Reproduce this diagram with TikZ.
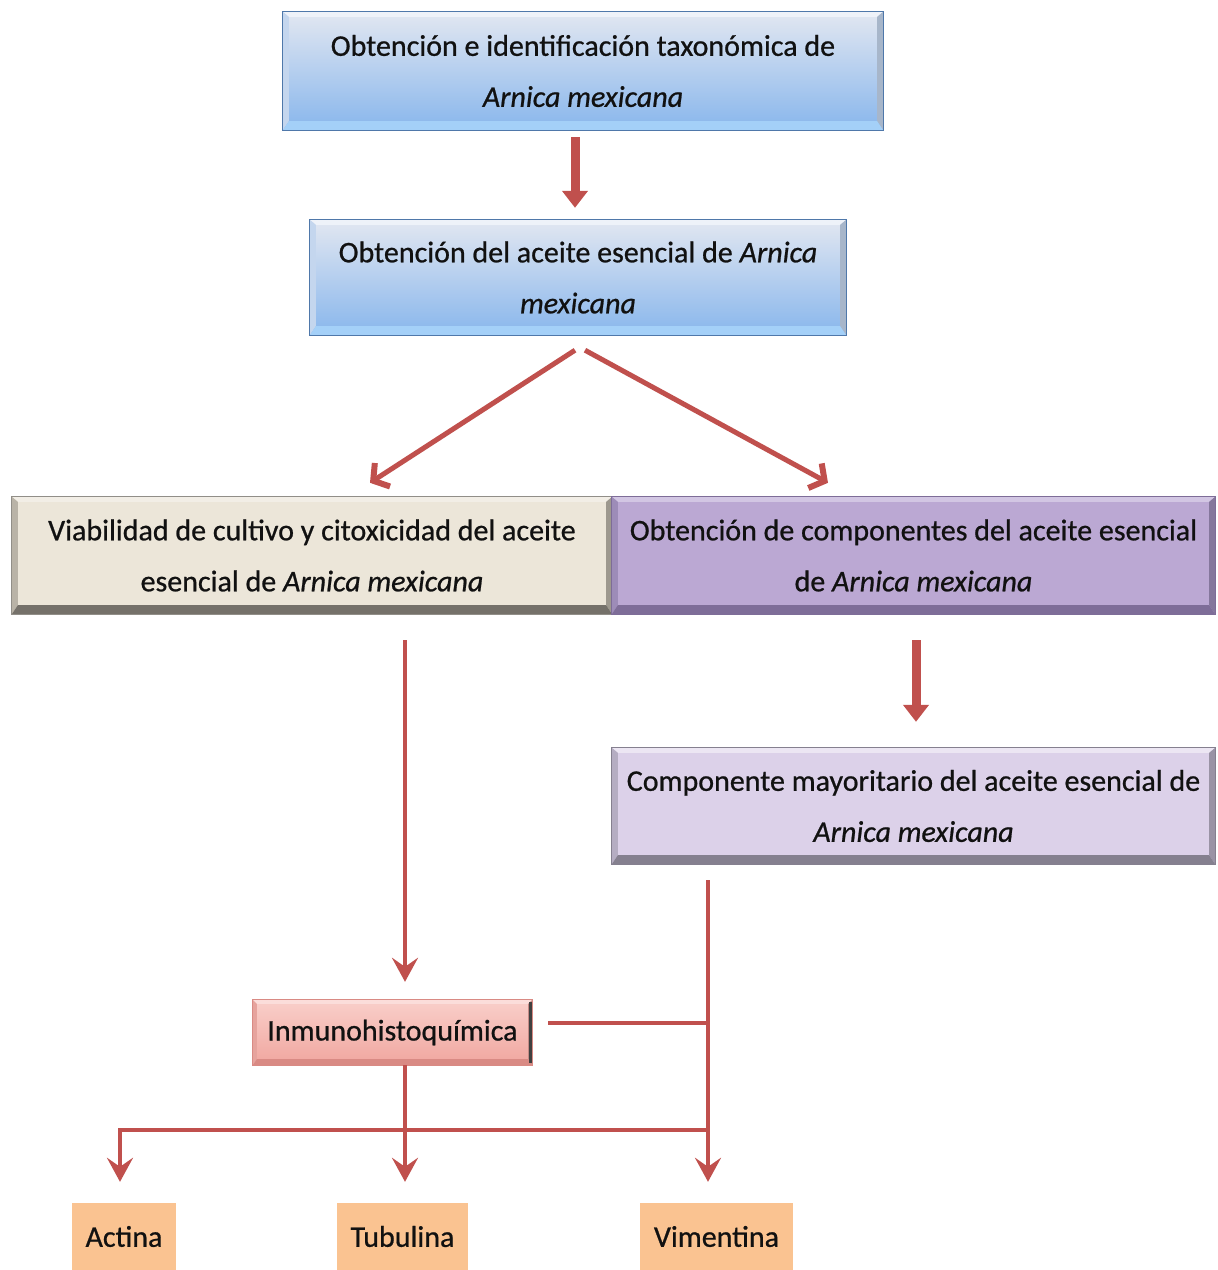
\documentclass[tikz,border=0pt]{standalone}
\usepackage{fontspec}
\setmainfont{Carlito}[FakeBold=0.7]
\usetikzlibrary{arrows.meta}
\definecolor{arr}{HTML}{C0504D}
\definecolor{txt}{HTML}{111111}
\definecolor{blueTop}{HTML}{E2E7F1}
\definecolor{blueBot}{HTML}{88B6EC}
\definecolor{blueDark}{HTML}{4F78AA}
\definecolor{blueLight}{HTML}{EEF2F9}
\definecolor{blueBev}{HTML}{A4D0F8}
\definecolor{blueSide}{HTML}{C4D6EE}
\definecolor{beige}{HTML}{ECE6D9}
\definecolor{beigeDark}{HTML}{75716A}
\definecolor{beigeLight}{HTML}{F2EEE6}
\definecolor{beigeSide}{HTML}{B9B3A7}
\definecolor{purp}{HTML}{BBA8D3}
\definecolor{purpDark}{HTML}{7E6D98}
\definecolor{purpLight}{HTML}{D2C6E3}
\definecolor{purpSide}{HTML}{9D8CB8}
\definecolor{lav}{HTML}{DCD1E9}
\definecolor{lavDark}{HTML}{85808F}
\definecolor{lavLight}{HTML}{ECE6F3}
\definecolor{lavSide}{HTML}{B5ADC2}
\definecolor{pinkTop}{HTML}{F9CFCA}
\definecolor{pinkBot}{HTML}{F0A69F}
\definecolor{pinkDark}{HTML}{D98A84}
\definecolor{pinkLight}{HTML}{FBDDDA}
\definecolor{pinkSide}{HTML}{E6A39D}
\definecolor{orng}{HTML}{FAC391}
\newcommand\bw{6pt}
\newcommand\bb{9pt}
\newcommand\bt{5pt}
% node, top colour, bottom colour, side colour, outline colour
\newcommand\bevelbox[5]{%
 \fill[#2] (#1.north west) -- (#1.north east) -- ([xshift=-\bw,yshift=-\bt]#1.north east) -- ([xshift=\bw,yshift=-\bt]#1.north west) -- cycle;
 \fill[#4] (#1.north west) -- ([xshift=\bw,yshift=-\bt]#1.north west) -- ([xshift=\bw,yshift=\bb]#1.south west) -- (#1.south west) -- cycle;
 \fill[#4!85!black] (#1.north east) -- ([xshift=-\bw,yshift=-\bt]#1.north east) -- ([xshift=-\bw,yshift=\bb]#1.south east) -- (#1.south east) -- cycle;
 \fill[#3] (#1.south west) -- ([xshift=\bw,yshift=\bb]#1.south west) -- ([xshift=-\bw,yshift=\bb]#1.south east) -- (#1.south east) -- cycle;
 \draw[#5, line width=1pt] (#1.south west) rectangle (#1.north east);
}
\begin{document}
\begin{tikzpicture}[x=1pt,y=-1pt,
  box/.style={inner sep=0pt, align=center, text=txt, font=\fontsize{30}{51}\selectfont},
  smallbox/.style={inner sep=0pt, align=center, text=txt, font=\fontsize{30}{36}\selectfont},
  thick/.style={arr, line width=9pt, -{Triangle[width=25pt,length=17pt]}},
  ln/.style={arr, line width=4pt},
  arw/.style={ln, -{Stealth[length=24pt,width=26pt,inset=9pt]}},
  diag/.style={arr, line width=5pt, -{Straight Barb[length=11pt,width=28pt,line width=6pt]}}
]
\fill[white] (0,0) rectangle (1218,1270);
\useasboundingbox (0,0) rectangle (1218,1270);

% boxes
\node[box, minimum width=600pt, minimum height=118pt, top color=blueTop, bottom color=blueBot] (top) at (583,71)
  {Obtención e identificación taxonómica de\\\textit{Arnica mexicana}};
\bevelbox{top}{blueLight}{blueBev}{blueSide}{blueDark}
\node[box, minimum width=536pt, minimum height=115pt, top color=blueTop, bottom color=blueBot] (aceite) at (578,277.5)
  {Obtención del aceite esencial de \textit{Arnica}\\\textit{mexicana}};
\bevelbox{aceite}{blueLight}{blueBev}{blueSide}{blueDark}

\node[box, minimum width=600pt, minimum height=117pt, fill=beige] (viab) at (312,555.5)
  {Viabilidad de cultivo y citoxicidad del aceite\\esencial de \textit{Arnica mexicana}};
\bevelbox{viab}{beigeLight}{beigeDark}{beigeSide}{beigeDark!80}
\node[box, minimum width=603pt, minimum height=117pt, fill=purp] (comp) at (913.5,555.5)
  {Obtención de componentes del aceite esencial\\de \textit{Arnica mexicana}};
\bevelbox{comp}{purpLight}{purpDark}{purpSide}{purpDark}

\node[box, minimum width=603pt, minimum height=116pt, fill=lav] (mayor) at (913.5,806)
  {Componente mayoritario del aceite esencial de\\\textit{Arnica mexicana}};
\bevelbox{mayor}{lavLight}{lavDark}{lavSide}{lavDark}

\renewcommand\bw{4pt}\renewcommand\bb{6pt}\renewcommand\bt{4pt}
\node[smallbox, minimum width=279pt, minimum height=65pt, top color=pinkTop, bottom color=pinkBot] (inmuno) at (392.5,1032.5)
  {Inmunohistoquímica};
\bevelbox{inmuno}{pinkLight}{pinkDark}{pinkSide}{pinkDark}
\draw[black!75, line width=2.5pt] ([xshift=-1.5pt,yshift=-2pt]inmuno.north east) -- ([xshift=-1.5pt,yshift=2pt]inmuno.south east);

\node[smallbox, minimum width=104pt, minimum height=67pt, fill=orng] (act) at (124,1236.5) {Actina};
\node[smallbox, minimum width=131pt, minimum height=67pt, fill=orng] (tub) at (402.5,1236.5) {Tubulina};
\node[smallbox, minimum width=153pt, minimum height=67pt, fill=orng] (vim) at (716.5,1236.5) {Vimentina};

% connectors
\draw[thick] ([xshift=-8pt,yshift=-7pt]top.south) -- ([xshift=-3pt,yshift=12pt]aceite.north);
\draw[diag] ([xshift=-3pt,yshift=-15pt]aceite.south) -- ([xshift=58pt,yshift=14pt]viab.north);
\draw[diag] ([xshift=7pt,yshift=-15pt]aceite.south) -- ([xshift=-85.5pt,yshift=14pt]comp.north);
\draw[thick] ([xshift=2.5pt,yshift=-26pt]comp.south) -- ([xshift=2.5pt,yshift=26pt]mayor.north);

\draw[arw] ([xshift=93pt,yshift=-26pt]viab.south) -- ([xshift=12.5pt,yshift=18pt]inmuno.north);
\coordinate (j) at (708,1023);
\coordinate (k) at (708,1130);
\draw[arw] ([xshift=-205.5pt,yshift=-16pt]mayor.south) -- ([xshift=-8.5pt,yshift=21pt]vim.north);
\draw[ln] ([xshift=16pt,yshift=9.5pt]inmuno.east) -- (j);
\draw[arw] ([xshift=12.5pt]inmuno.south) -- ([xshift=2.5pt,yshift=21pt]tub.north);
\draw[arw] (k) -| ([xshift=-4pt,yshift=21pt]act.north);
\end{tikzpicture}
\end{document}
